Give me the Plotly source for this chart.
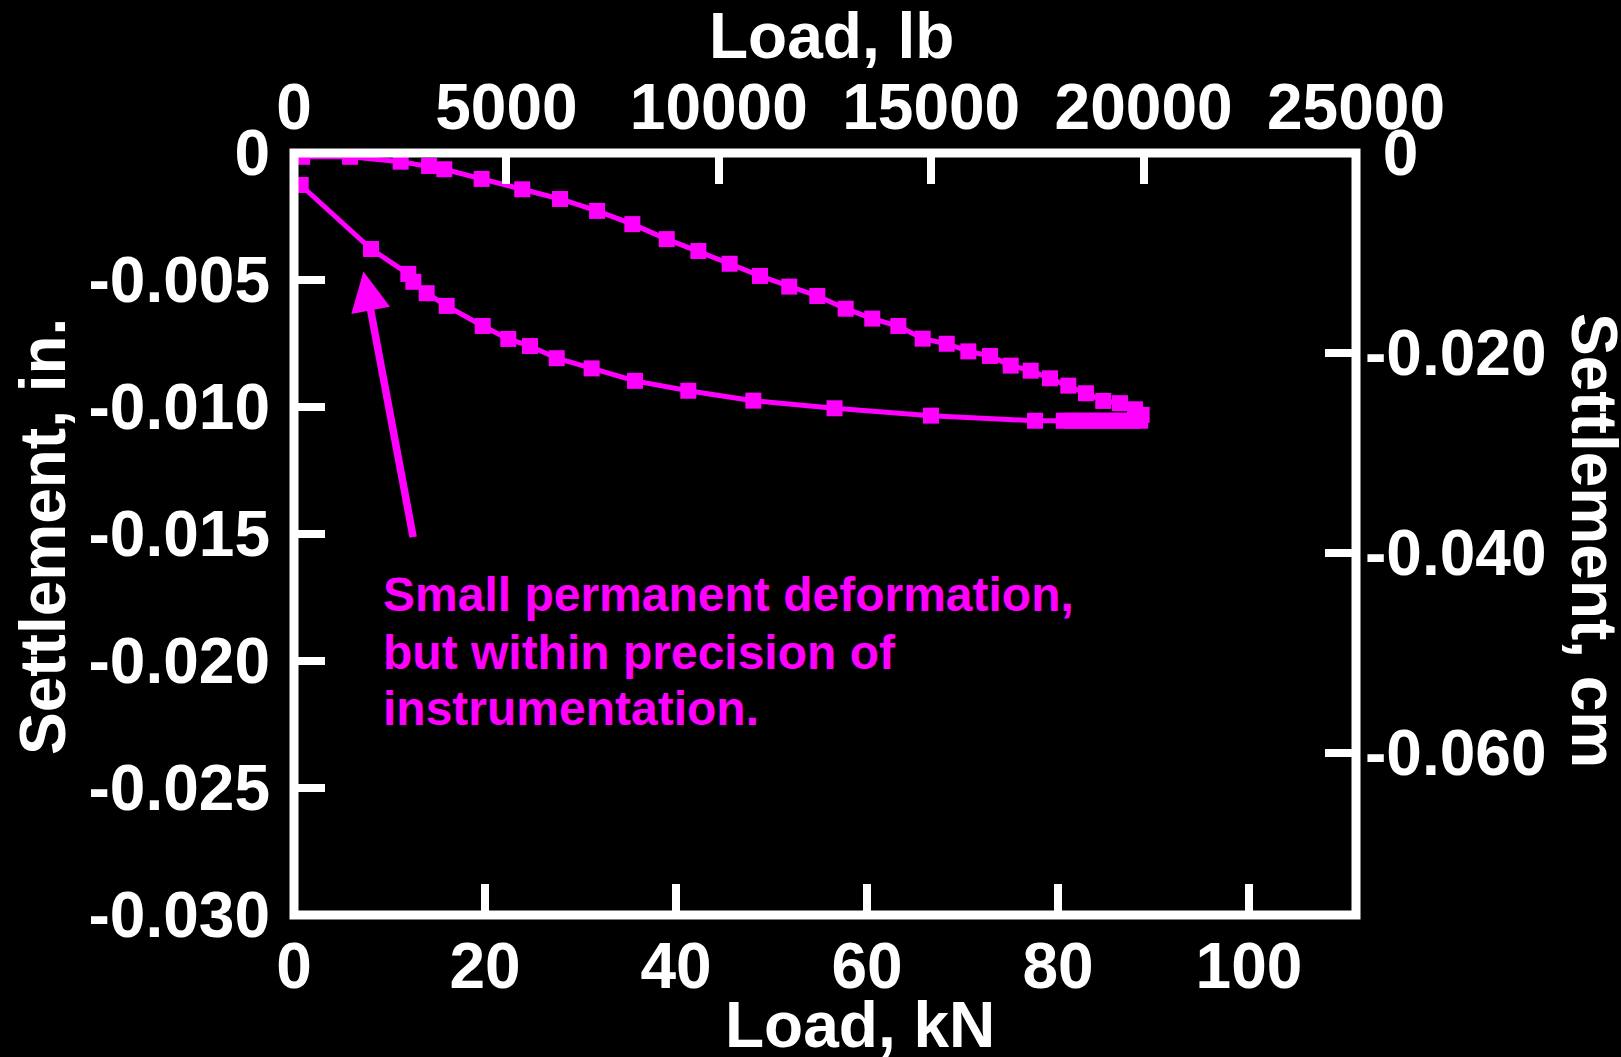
import plotly.graph_objects as go

# Plate load test: settlement vs. applied load (loading and unloading branches)
load_up_kN = [0.85, 5.87, 11.17, 14.14, 15.74, 19.65, 23.90, 27.86, 31.74, 35.43,
              39.03, 42.34, 45.62, 48.80, 51.86, 54.80, 57.77, 60.55, 63.28, 65.83,
              68.35, 70.61, 72.88, 75.05, 77.14, 79.16, 81.08, 82.93, 84.74, 86.49,
              88.06, 88.76]
settle_up_in = [-0.00015, -0.00015, -0.00034, -0.00051, -0.00064, -0.00102, -0.00143,
                -0.00181, -0.00228, -0.00280, -0.00339, -0.00386, -0.00436, -0.00484,
                -0.00526, -0.00563, -0.00613, -0.00652, -0.00681, -0.00731, -0.00751,
                -0.00781, -0.00799, -0.00837, -0.00857, -0.00887, -0.00916, -0.00946,
                -0.00976, -0.00985, -0.01009, -0.01031]

load_down_kN = [88.6, 87.8, 87.0, 86.2, 85.4, 84.6, 83.8, 83.0, 82.2, 81.4, 80.6,
                77.6, 66.7, 56.6, 48.1, 41.29, 35.71, 31.17, 27.51, 24.71, 22.44,
                19.76, 15.99, 13.89, 12.50, 11.97, 8.07, 0.70]
settle_down_in = [-0.01054, -0.01054, -0.01054, -0.01054, -0.01054, -0.01054, -0.01054,
                  -0.01054, -0.01054, -0.01054, -0.01054, -0.01054, -0.01034, -0.01005,
                  -0.00975, -0.00936, -0.00897, -0.00848, -0.00808, -0.00760, -0.00732,
                  -0.00681, -0.00602, -0.00552, -0.00507, -0.00476, -0.00378, -0.00126]

# Axis ticks
kn_ticks = [0, 20, 40, 60, 80, 100]
lb_ticks = [0, 5000, 10000, 15000, 20000, 25000]
lb_labels = ["0", "5000", "10000", "15000", "20000", "25000"]
in_ticks = [0, -0.005, -0.010, -0.015, -0.020, -0.025, -0.030]
in_labels = ["0", "-0.005", "-0.010", "-0.015", "-0.020", "-0.025", "-0.030"]
cm_ticks = [0, -0.020, -0.040, -0.060]
cm_labels = ["\u00a00", "-0.020", "-0.040", "-0.060"]

note_lines = ["Small permanent deformation,",
              "but within precision of",
              "instrumentation."]

# Unit conversions for the secondary axes
LB_MAX = 25000
KN_PER_LB = 0.0044482216
IN_MIN = -0.030
CM_PER_IN = 2.54

MAGENTA = "#FF00FF"
FONT = "Liberation Sans, Arial, sans-serif"
W, H = 1621, 1057
L, R, T, B = 294, 265, 153, 142

fig = go.Figure()
line_style = dict(color=MAGENTA, width=5)
marker_style = dict(symbol="square", size=16, color=MAGENTA, line=dict(width=0))
fig.add_trace(go.Scatter(x=load_up_kN, y=settle_up_in, mode="lines+markers",
                         line=line_style, marker=marker_style, showlegend=False))
fig.add_trace(go.Scatter(x=load_down_kN, y=settle_down_in, mode="lines+markers",
                         line=line_style, marker=marker_style, showlegend=False))
# empty trace so the secondary axes are laid out
fig.add_trace(go.Scatter(x=[], y=[], xaxis="x2", yaxis="y2", showlegend=False,
                         hoverinfo="skip"))

tick_font = dict(family=FONT, size=64, color="white", weight="bold")
common = dict(ticks="inside", ticklen=31, tickwidth=8, tickcolor="white",
              showgrid=False, zeroline=False, showline=False, tickfont=tick_font)

fig.update_layout(
    width=W, height=H,
    margin=dict(l=L, r=R, t=T, b=B, pad=0),
    paper_bgcolor="black", plot_bgcolor="black",
    xaxis=dict(range=[0, LB_MAX * KN_PER_LB], tickvals=kn_ticks,
               ticklabelstandoff=8, **common),
    xaxis2=dict(range=[0, LB_MAX], tickvals=lb_ticks, ticktext=lb_labels,
                overlaying="x", side="top", anchor="y", ticklabelstandoff=10, **common),
    yaxis=dict(range=[IN_MIN, 0], tickvals=in_ticks, ticktext=in_labels,
               ticklabelstandoff=23, **common),
    yaxis2=dict(range=[IN_MIN * CM_PER_IN, 0], tickvals=cm_ticks, ticktext=cm_labels,
                overlaying="y", side="right", anchor="x", ticklabelstandoff=8, **common),
)

# White frame around the plotting area
fig.add_shape(type="rect", xref="paper", yref="paper", x0=0, y0=0, x1=1, y1=1,
              line=dict(color="white", width=9), layer="above")

pw, ph = W - L - R, H - T - B


def px(xp):
    return (xp - L) / pw


def py(yp):
    return (H - B - yp) / ph


title_font = dict(family=FONT, size=64, color="white", weight="bold")
fig.add_annotation(text="Load, kN", xref="paper", yref="paper", x=px(860), y=py(1025),
                   showarrow=False, font=title_font, xanchor="center", yanchor="middle")
fig.add_annotation(text="Load, lb", xref="paper", yref="paper", x=px(831), y=py(36),
                   showarrow=False, font=title_font, xanchor="center", yanchor="middle")
fig.add_annotation(text="Settlement, in.", xref="paper", yref="paper", x=px(43), y=py(537),
                   showarrow=False, font=title_font, textangle=-90,
                   xanchor="center", yanchor="middle")
fig.add_annotation(text="Settlement, cm", xref="paper", yref="paper", x=px(1594), y=py(540),
                   showarrow=False, font=title_font, textangle=90,
                   xanchor="center", yanchor="middle")

note_font = dict(family=FONT, size=48, color=MAGENTA, weight="bold")
for line, yc in zip(note_lines, [594, 652, 708]):
    fig.add_annotation(text=line, xref="paper", yref="paper", x=px(381), y=py(yc),
                       showarrow=False, font=note_font, xanchor="left", yanchor="middle")

# Arrow pointing at the unloading branch near zero load
fig.add_annotation(text="", x=7.27, y=-0.00467, xref="x", yref="y",
                   ax=50, ay=267, axref="pixel", ayref="pixel",
                   showarrow=True, arrowhead=2, arrowsize=1.05, arrowwidth=7.5,
                   arrowcolor=MAGENTA, standoff=0, startstandoff=0)

fig.write_html("out.html")
